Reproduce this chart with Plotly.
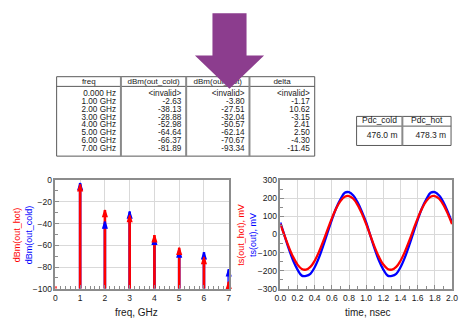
import plotly.graph_objects as go

W, H = 459, 321

# ---------------- data ----------------
freq_ghz = [0, 1, 2, 3, 4, 5, 6, 7]
freq_labels = ["0.000 Hz", "1.00 GHz", "2.00 GHz", "3.00 GHz",
               "4.00 GHz", "5.00 GHz", "6.00 GHz", "7.00 GHz"]
dbm_out_cold = [None, -2.63, -38.13, -28.88, -52.98, -64.64, -66.37, -81.89]
dbm_out_hot = [None, -3.80, -27.51, -32.04, -50.57, -62.14, -70.67, -93.34]
delta_db = [None, -1.17, 10.62, -3.15, 2.41, 2.50, -4.30, -11.45]
dc_hot_plotted = -97.5          # invalid DC bin, drawn just above the floor
table_headers = ["freq", "dBm(out_cold)", "dBm(out_hot)", "delta"]

pdc_headers = ["Pdc_cold", "Pdc_hot"]
pdc_values = ["476.0 m", "478.3 m"]

time_ns = [0.00, 0.05, 0.10, 0.15, 0.20, 0.25, 0.30, 0.35, 0.40, 0.45,
           0.50, 0.55, 0.60, 0.65, 0.70, 0.75, 0.80, 0.85, 0.90, 0.95,
           1.00, 1.05, 1.10, 1.15, 1.20, 1.25, 1.30, 1.35, 1.40, 1.45,
           1.50, 1.55, 1.60, 1.65, 1.70, 1.75, 1.80, 1.85, 1.90, 1.95, 2.00]
ts_out = [66, -8, -81, -145, -194, -227, -228, -217, -181, -128,
          -62, 10, 81, 145, 194, 230, 233, 215, 178, 126,
          66, -8, -81, -145, -194, -227, -228, -217, -181, -128,
          -62, 10, 81, 145, 194, 230, 233, 215, 178, 126, 66]
ts_out_hot = [57, -8, -71, -125, -166, -190, -194, -179, -145, -96,
              -37, 27, 89, 143, 184, 208, 212, 197, 163, 115,
              57, -8, -71, -125, -166, -190, -194, -179, -145, -96,
              -37, 27, 89, 143, 184, 208, 212, 197, 163, 115, 57]

# ---------------- styling ----------------
FONT = "Liberation Sans, Arial, sans-serif"
RED = "#ff0000"
BLUE = "#0000ff"
AXC = "#8c8c8c"
GRID = "#d9d9d9"
TXT = "#1a1a1a"
FLOOR = -100
TFS = 8.2  # table font size


def px_x(p):
    return p / W


def px_y(p):
    return 1 - p / H


fig = go.Figure()

# ---- spectrum stems ----
def stems(vals, floor):
    xs, ys = [], []
    for f, v in zip(freq_ghz, vals):
        if v is None:
            continue
        xs += [f, f, None]
        ys += [floor, v, None]
    return xs, ys

hot_plot = [dc_hot_plotted] + dbm_out_hot[1:]

xs, ys = stems(dbm_out_cold, FLOOR)
fig.add_trace(go.Scatter(x=xs, y=ys, mode="lines", line=dict(color=BLUE, width=2.6),
                         xaxis="x", yaxis="y", showlegend=False, hoverinfo="skip"))
xs, ys = stems(hot_plot, FLOOR)
fig.add_trace(go.Scatter(x=xs, y=ys, mode="lines", line=dict(color=RED, width=2.6),
                         xaxis="x", yaxis="y", showlegend=False, hoverinfo="skip"))
fig.add_trace(go.Scatter(x=freq_ghz, y=dbm_out_cold, mode="markers",
                         marker=dict(symbol="arrow", size=7, color=BLUE,
                                     line=dict(color=BLUE, width=1.3)),
                         cliponaxis=False, xaxis="x", yaxis="y", showlegend=False))
fig.add_trace(go.Scatter(x=freq_ghz, y=dbm_out_hot, mode="markers",
                         marker=dict(symbol="arrow", size=7, color=RED,
                                     line=dict(color=RED, width=1.3)),
                         cliponaxis=False, xaxis="x", yaxis="y", showlegend=False))

# ---- time domain ----
fig.add_trace(go.Scatter(x=time_ns, y=ts_out, mode="lines",
                         line=dict(color=BLUE, width=2.3, shape="spline"),
                         xaxis="x2", yaxis="y2", showlegend=False))
fig.add_trace(go.Scatter(x=time_ns, y=ts_out_hot, mode="lines",
                         line=dict(color=RED, width=2.3, shape="spline"),
                         xaxis="x2", yaxis="y2", showlegend=False))

# ---- tables (page-pixel overlay axes x3/y3) ----
T1_cols = [52, 118, 185, 250, 317]
T1_top, T1_head, T1_bot = 74, 84, 156
row0, row_pitch = 91.5, 8.2
pad = 5

def fmt(v):
    return "&lt;invalid&gt;" if v is None else f"{v:.2f}"

columns = [freq_labels,
           [fmt(v) for v in dbm_out_cold],
           [fmt(v) for v in dbm_out_hot],
           [fmt(v) for v in delta_db]]

fig.add_trace(go.Scatter(
    x=[(T1_cols[i] + T1_cols[i + 1]) / 2 for i in range(4)],
    y=[(T1_top + T1_head) / 2] * 4, text=table_headers, mode="text",
    textposition="middle center", textfont=dict(family=FONT, size=8, color=TXT),
    xaxis="x3", yaxis="y3", showlegend=False, hoverinfo="skip"))
for i, col in enumerate(columns):
    fig.add_trace(go.Scatter(
        x=[T1_cols[i + 1] - pad] * len(col),
        y=[row0 + k * row_pitch for k in range(len(col))],
        text=col, mode="text", textposition="middle left",
        textfont=dict(family=FONT, size=TFS, color=TXT),
        xaxis="x3", yaxis="y3", showlegend=False, hoverinfo="skip"))

T2_cols = [360, 407, 457]
T2_top, T2_head, T2_bot = 115, 125, 145
fig.add_trace(go.Scatter(
    x=[(T2_cols[i] + T2_cols[i + 1]) / 2 for i in range(2)],
    y=[(T2_top + T2_head) / 2] * 2, text=pdc_headers, mode="text",
    textposition="middle center", textfont=dict(family=FONT, size=8.5, color=TXT),
    xaxis="x3", yaxis="y3", showlegend=False, hoverinfo="skip"))
fig.add_trace(go.Scatter(
    x=[T2_cols[i + 1] - pad for i in range(2)],
    y=[(T2_head + T2_bot) / 2] * 2, text=pdc_values, mode="text",
    textposition="middle left", textfont=dict(family=FONT, size=8.5, color=TXT),
    xaxis="x3", yaxis="y3", showlegend=False, hoverinfo="skip"))

shapes = []
LC = "#5a5a5a"
def box(x0, y0, x1, y1, w=1, c=LC):
    shapes.append(dict(type="rect", xref="x3", yref="y3", x0=x0, y0=y0, x1=x1, y1=y1,
                       line=dict(color=c, width=w), layer="below"))
def seg(x0, y0, x1, y1, w=1, c=LC):
    shapes.append(dict(type="line", xref="x3", yref="y3", x0=x0, y0=y0, x1=x1, y1=y1,
                       line=dict(color=c, width=w), layer="below"))

box(T1_cols[0], T1_top, T1_cols[-1], T1_bot)
seg(T1_cols[0], T1_head, T1_cols[-1], T1_head)
for c in T1_cols[1:-1]:
    seg(c, T1_top, c, T1_bot, w=2, c="#8a8a8a")
box(T2_cols[0], T2_top, T2_cols[-1], T2_bot)
seg(T2_cols[0], T2_head, T2_cols[-1], T2_head)
seg(T2_cols[1], T2_top, T2_cols[1], T2_bot, w=2, c="#8a8a8a")

# purple arrow
shapes.append(dict(type="path", xref="x3", yref="y3",
                   path="M 212,8.5 L 247,8.5 L 247,52 L 265,52 L 229.5,86.5 L 194,52 L 212,52 Z",
                   fillcolor="#8c3d8e", line=dict(width=0), layer="above"))

# ---------------- axes ----------------
tickfont = dict(family=FONT, size=8.5, color=TXT)
common = dict(showline=True, linecolor=AXC, linewidth=1.5, mirror=True,
              ticks="inside", ticklen=4, tickcolor=AXC, showgrid=True,
              gridcolor=GRID, gridwidth=1, zeroline=False, tickfont=tickfont,
              ticklabeloverflow="allow")

ydom = [px_y(293), px_y(180.7)]
fig.update_layout(
    width=W, height=H, margin=dict(l=0, r=0, t=0, b=0),
    paper_bgcolor="white", plot_bgcolor="rgba(0,0,0,0)",
    xaxis=dict(domain=[px_x(50.7), px_x(228.7)], range=[0, 7], dtick=1, anchor="y",
               minor=dict(dtick=0.2, ticks="inside", ticklen=3, tickcolor=AXC, showgrid=False),
               **common),
    yaxis=dict(domain=ydom, range=[-100, 0], dtick=20, anchor="x",
               minor=dict(dtick=10, ticks="inside", ticklen=3, tickcolor=AXC, showgrid=False),
               **common),
    xaxis2=dict(domain=[px_x(281.7), px_x(458)], range=[0, 2], dtick=0.2, tickformat=".1f",
                anchor="y2",
                minor=dict(dtick=0.1, ticks="inside", ticklen=3, tickcolor=AXC, showgrid=False),
                **common),
    yaxis2=dict(domain=ydom, range=[-300, 300], dtick=100, anchor="x2",
                minor=dict(dtick=50, ticks="inside", ticklen=3, tickcolor=AXC, showgrid=False),
                **common),
    xaxis3=dict(domain=[0, 1], range=[0, W], visible=False, anchor="y3", fixedrange=True),
    yaxis3=dict(domain=[0, 1], range=[H, 0], visible=False, anchor="x3", fixedrange=True),
    shapes=shapes,
    annotations=[
        dict(text="freq, GHz", x=px_x(134), y=px_y(317.5), xref="paper", yref="paper",
             xanchor="center", yanchor="middle",
             showarrow=False, font=dict(family=FONT, size=10, color=TXT)),
        dict(text="time, nsec", x=px_x(372), y=px_y(317.5), xref="paper", yref="paper",
             xanchor="center", yanchor="middle",
             showarrow=False, font=dict(family=FONT, size=10, color=TXT)),
        dict(text=f'<span style="color:{RED}">dBm(out_hot)</span><br>'
                  f'<span style="color:{BLUE}">dBm(out_cold)</span>',
             x=px_x(17), y=px_y(237), xref="paper", yref="paper", textangle=-90,
             xanchor="center", yanchor="middle",
             showarrow=False, font=dict(family=FONT, size=9)),
        dict(text=f'<span style="color:{RED}">ts(out_hot), mV</span><br>'
                  f'<span style="color:{BLUE}">ts(out), mV</span>',
             x=px_x(247.5), y=px_y(237), xref="paper", yref="paper", textangle=-90,
             xanchor="center", yanchor="middle",
             showarrow=False, font=dict(family=FONT, size=9)),
    ],
)

fig.write_html("out.html")
